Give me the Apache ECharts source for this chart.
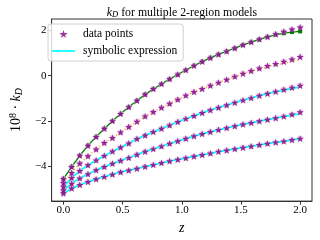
<!DOCTYPE html>
<html><head><meta charset="utf-8">
<script src="https://cdn.jsdelivr.net/npm/echarts@6/dist/echarts.min.js"></script>
<style>html,body{margin:0;padding:0;background:#fff}#c{width:320px;height:240px}</style>
</head><body><div id="c"></div>
<script>
const zValues = [0, 0.069, 0.138, 0.207, 0.276, 0.345, 0.414, 0.483, 0.552, 0.621, 0.690, 0.759, 0.828, 0.897, 0.966, 1.034, 1.103, 1.172, 1.241, 1.310, 1.379, 1.448, 1.517, 1.586, 1.655, 1.724, 1.793, 1.862, 1.931, 2.0];

const model1Points = [-4.57,-4.04,-3.54,-3.10,-2.71,-2.35,-2.01,-1.69,-1.39,-1.11,-0.83,-0.59,-0.37,-0.15,0.05,0.25,0.44,0.62,0.79,0.94,1.08,1.22,1.36,1.49,1.61,1.72,1.84,1.95,2.05,2.14];
const model1Fit    = [-4.57,-4.04,-3.54,-3.10,-2.71,-2.35,-2.01,-1.69,-1.39,-1.11,-0.83,-0.59,-0.37,-0.15,0.05,0.25,0.44,0.62,0.79,0.94,1.08,1.22,1.36,1.49,1.61,1.72,1.81,1.88,1.93,1.96];
const model2Points = [-4.75,-4.31,-3.89,-3.57,-3.27,-2.98,-2.76,-2.51,-2.27,-2.04,-1.80,-1.61,-1.42,-1.24,-1.06,-0.88,-0.72,-0.59,-0.44,-0.31,-0.18,-0.04,0.09,0.21,0.32,0.43,0.52,0.62,0.72,0.83];
const model2Fit    = [-4.75,-4.31,-3.89,-3.57,-3.27,-2.98,-2.76,-2.51,-2.27,-2.04,-1.80,-1.61,-1.42,-1.24,-1.06,-0.88,-0.72,-0.59,-0.44,-0.31,-0.18,-0.04,0.09,0.20,0.30,0.39,0.47,0.55,0.63,0.71];
const model3Points = [-4.92,-4.53,-4.22,-3.97,-3.75,-3.55,-3.36,-3.18,-3.00,-2.80,-2.65,-2.49,-2.35,-2.20,-2.05,-1.91,-1.78,-1.65,-1.53,-1.42,-1.31,-1.20,-1.09,-0.99,-0.89,-0.80,-0.71,-0.62,-0.53,-0.44];
const model3Fit    = [-4.92,-4.53,-4.22,-3.97,-3.75,-3.55,-3.36,-3.18,-3.00,-2.80,-2.65,-2.49,-2.35,-2.20,-2.05,-1.91,-1.78,-1.65,-1.53,-1.42,-1.31,-1.20,-1.09,-0.99,-0.89,-0.80,-0.72,-0.64,-0.57,-0.50];
const model4Points = [-5.08,-4.78,-4.55,-4.36,-4.19,-4.04,-3.90,-3.77,-3.64,-3.50,-3.37,-3.25,-3.13,-3.01,-2.90,-2.79,-2.68,-2.58,-2.49,-2.40,-2.32,-2.24,-2.16,-2.09,-2.02,-1.95,-1.88,-1.81,-1.72,-1.62];
const model4Fit    = [-5.08,-4.78,-4.55,-4.36,-4.19,-4.04,-3.90,-3.77,-3.64,-3.50,-3.37,-3.25,-3.13,-3.01,-2.90,-2.79,-2.68,-2.58,-2.49,-2.40,-2.32,-2.24,-2.16,-2.09,-2.02,-1.95,-1.88,-1.81,-1.75,-1.68];
const model5Points = [-5.22,-5.00,-4.84,-4.71,-4.59,-4.48,-4.38,-4.28,-4.20,-4.12,-4.03,-3.95,-3.87,-3.79,-3.72,-3.65,-3.58,-3.51,-3.44,-3.37,-3.31,-3.25,-3.19,-3.13,-3.07,-3.01,-2.96,-2.91,-2.85,-2.79];
const model5Fit    = [-5.22,-5.00,-4.84,-4.71,-4.59,-4.48,-4.38,-4.28,-4.20,-4.12,-4.03,-3.95,-3.87,-3.79,-3.72,-3.65,-3.58,-3.51,-3.44,-3.37,-3.31,-3.25,-3.19,-3.13,-3.07,-3.01,-2.96,-2.91,-2.85,-2.79];

const xTicks = [0, 0.5, 1.0, 1.5, 2.0];
const yTicks = [-4, -2, 0, 2];

const FONT = 'Liberation Serif';
const STAR = 'path://M50,0 L61.2,34.5 L97.6,34.5 L68.2,55.9 L79.4,90.5 L50,69.1 L20.6,90.5 L31.8,55.9 L2.4,34.5 L38.8,34.5 Z';
const LINE_ICON = 'path://M0,0 L30,0 L30,2.2 L0,2.2 Z';
const pair = ys => ys.map((y, i) => [zValues[i], y]);
const allPoints = [model1Points, model2Points, model3Points, model4Points, model5Points];
const starData = [].concat(...allPoints.map(pair));

const fmtNum = (v, d) => (v < 0 ? '\u2212' : '') + Math.abs(v).toFixed(d);

const series = [
  {name: 'green fit', type: 'line', data: pair(model1Fit), showSymbol: true, symbol: 'rect', symbolSize: 4,
   itemStyle: {color: '#008000'}, lineStyle: {color: '#008000', width: 1.3}, z: 2, silent: true, animation: false},
  {name: 'orange fit', type: 'line', data: pair(model2Fit), showSymbol: false, symbol: 'none',
   lineStyle: {color: '#FFA500', width: 1.3, type: [1.2, 2.2]}, z: 2, animation: false},
  {name: 'symbolic expression', type: 'line', data: pair(model3Fit), symbol: 'none', showSymbol: false,
   itemStyle: {color: '#00FFFF'}, lineStyle: {color: '#00FFFF', width: 1.8}, z: 2, animation: false},
  {name: 'symbolic expression', type: 'line', data: pair(model4Fit), symbol: 'none', showSymbol: false,
   itemStyle: {color: '#00FFFF'}, lineStyle: {color: '#00FFFF', width: 1.8}, z: 2, animation: false},
  {name: 'symbolic expression', type: 'line', data: pair(model5Fit), symbol: 'none', showSymbol: false,
   itemStyle: {color: '#00FFFF'}, lineStyle: {color: '#00FFFF', width: 1.8}, z: 2, animation: false},
  {name: 'halo', type: 'scatter', data: starData, symbol: 'rect', symbolSize: 5,
   itemStyle: {color: '#e3a8e3', opacity: 0.7}, z: 3, animation: false},
  {name: 'data points', type: 'scatter', data: starData, symbol: STAR, symbolSize: 7.5, symbolKeepAspect: true,
   itemStyle: {color: '#800080'}, z: 4, animation: false}
];

const chart = echarts.init(document.getElementById('c'), null, {renderer: 'canvas'});
chart.setOption({
  animation: false,
  backgroundColor: '#fff',
  title: {
    text: '{i|k}{d|D}{n| for multiple 2-region models}',
    left: 177, top: 1, textAlign: 'center',
    textStyle: {fontWeight: 'normal', rich: {
      i: {fontFamily: FONT, fontStyle: 'italic', fontWeight: 'normal', fontSize: 11.8, color: '#000'},
      d: {fontFamily: FONT, fontStyle: 'italic', fontWeight: 'normal', fontSize: 8.5, color: '#000', verticalAlign: 'bottom', padding: [4, 0, 0, 0]},
      n: {fontFamily: FONT, fontWeight: 'normal', fontSize: 11.8, color: '#000'}
    }}
  },
  grid: {left: 42, right: 8, top: 19, bottom: 38, show: true, borderColor: '#333', borderWidth: 1, backgroundColor: 'transparent'},
  legend: {
    left: 48, top: 24, orient: 'vertical',
    data: [
      {name: 'data points', icon: STAR, symbolKeepAspect: true},
      {name: 'symbolic expression', icon: LINE_ICON, symbolKeepAspect: true}
    ],
    itemWidth: 23, itemHeight: 8, itemGap: 5, padding: [4, 6, 4, 4],
    backgroundColor: 'rgba(255,255,255,0.8)', borderColor: '#d0d0d0', borderWidth: 1, borderRadius: 3,
    textStyle: {fontFamily: FONT, fontSize: 11.5, color: '#000', lineHeight: 12, padding: [0, 0, 0, 3]},
    selectedMode: false
  },
  xAxis: {
    type: 'value', min: -0.1, max: 2.1,
    name: 'z', nameLocation: 'middle', nameGap: 14,
    nameTextStyle: {fontFamily: FONT, fontStyle: 'italic', fontSize: 14, color: '#000'},
    axisLine: {show: true, onZero: false, lineStyle: {color: '#333', width: 1}},
    axisTick: {show: true, length: 3.5, customValues: xTicks, lineStyle: {color: '#333'}},
    axisLabel: {customValues: xTicks, fontFamily: FONT, fontSize: 11, color: '#000', margin: 4,
      formatter: v => fmtNum(v, 1)},
    splitLine: {show: false}
  },
  yAxis: {
    type: 'value', min: -5.56, max: 2.51,
    name: '{a|10}{s|8}{a| \u00b7 }{i|k}{d|D}', nameLocation: 'middle', nameGap: 19, nameRotate: 90,
    nameTextStyle: {rich: {
      a: {fontFamily: FONT, fontSize: 14, color: '#000'},
      s: {fontFamily: FONT, fontSize: 10, color: '#000', verticalAlign: 'top', padding: [0, 0, 6, 0]},
      i: {fontFamily: FONT, fontStyle: 'italic', fontSize: 14, color: '#000'},
      d: {fontFamily: FONT, fontStyle: 'italic', fontSize: 10, color: '#000', verticalAlign: 'bottom', padding: [6, 0, 0, 0]}
    }},
    axisLine: {show: true, onZero: false, lineStyle: {color: '#333', width: 1}},
    axisTick: {show: true, length: 3.5, customValues: yTicks, lineStyle: {color: '#333'}},
    axisLabel: {customValues: yTicks, fontFamily: FONT, fontSize: 11, color: '#000', margin: 5,
      formatter: v => fmtNum(v, 0)},
    splitLine: {show: false}
  },
  series: series
});
</script></body></html>
